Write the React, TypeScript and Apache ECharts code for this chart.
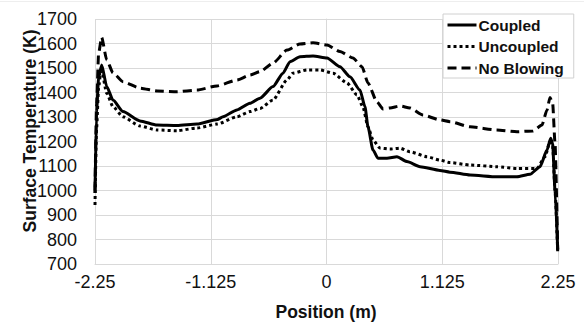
import React, { useEffect, useRef } from "react";
import * as echarts from "echarts";

const seriesNames = ["Coupled", "Uncoupled", "No Blowing"];
const xTicks = [-2.25, -1.125, 0, 1.125, 2.25];

const coupled: [number, number][] = [
  [-2.25, 990], [-2.235, 1320], [-2.215, 1460], [-2.185, 1512], [-2.136, 1424],
  [-2.075, 1369], [-1.978, 1322], [-1.813, 1284], [-1.647, 1267], [-1.453, 1265],
  [-1.259, 1271], [-1.06, 1290], [-1.006, 1301], [-0.87, 1329], [-0.744, 1356],
  [-0.646, 1377], [-0.52, 1424], [-0.423, 1479], [-0.355, 1526], [-0.258, 1546],
  [-0.131, 1549], [0.005, 1541], [0.131, 1505], [0.228, 1464], [0.325, 1410],
  [0.374, 1342], [0.403, 1260], [0.452, 1165], [0.5, 1132], [0.588, 1132],
  [0.685, 1138], [0.782, 1118], [0.909, 1097], [1.103, 1082], [1.2, 1075],
  [1.395, 1063], [1.657, 1056], [1.851, 1056], [1.978, 1066], [2.075, 1097],
  [2.143, 1165], [2.179, 1213], [2.198, 1190], [2.221, 1000], [2.247, 761],
];

const uncoupled: [number, number][] = [
  [-2.25, 941], [-2.235, 1250], [-2.215, 1420], [-2.19, 1500], [-2.136, 1397],
  [-2.075, 1342], [-1.978, 1301], [-1.813, 1263], [-1.647, 1247], [-1.453, 1244],
  [-1.259, 1255], [-1.064, 1271], [-0.87, 1301], [-0.744, 1322], [-0.646, 1335],
  [-0.52, 1369], [-0.384, 1451], [-0.326, 1479], [-0.19, 1492], [-0.063, 1492],
  [0.063, 1479], [0.199, 1439], [0.296, 1390], [0.354, 1342], [0.403, 1260],
  [0.452, 1206], [0.52, 1173], [0.617, 1169], [0.714, 1173], [0.811, 1158],
  [0.977, 1138], [1.103, 1124], [1.2, 1114], [1.395, 1104], [1.657, 1097],
  [1.851, 1090], [2.046, 1090], [2.124, 1138], [2.172, 1200], [2.198, 1185],
  [2.221, 1000], [2.247, 750],
];

const noBlowing: [number, number][] = [
  [-2.25, 1000], [-2.235, 1350], [-2.215, 1560], [-2.185, 1625], [-2.136, 1533],
  [-2.075, 1480], [-1.978, 1444], [-1.813, 1418], [-1.647, 1406], [-1.453, 1403],
  [-1.259, 1410], [-1.064, 1427], [-0.87, 1451], [-0.744, 1471], [-0.646, 1485],
  [-0.52, 1520], [-0.384, 1573], [-0.258, 1598], [-0.131, 1603], [0.005, 1594],
  [0.131, 1567], [0.257, 1541], [0.345, 1505], [0.403, 1439], [0.49, 1362],
  [0.549, 1333], [0.617, 1337], [0.714, 1345], [0.811, 1337], [0.937, 1308],
  [1.103, 1288], [1.2, 1281], [1.395, 1260], [1.657, 1247], [1.851, 1240],
  [2.007, 1243], [2.094, 1267], [2.143, 1329], [2.172, 1380], [2.198, 1357],
  [2.221, 1194], [2.247, 757],
];

const seriesData = [coupled, uncoupled, noBlowing];
const dashTypes: any[] = ["solid", [3, 3], [9, 5]];

export default function App() {
  const ref = useRef<HTMLDivElement>(null);
  useEffect(() => {
    if (!ref.current) return;
    const chart = echarts.init(ref.current, null, { renderer: "svg" });
    const font = "'Liberation Sans', Arial, sans-serif";
    chart.setOption({
      animation: false,
      backgroundColor: "#ffffff",
      grid: { left: 95, right: 26, top: 19, bottom: 65, containLabel: false },
      xAxis: {
        type: "value",
        min: xTicks[0],
        max: xTicks[xTicks.length - 1],
        interval: 1.125,
        axisLine: { show: true, lineStyle: { color: "#d9d9d9", width: 1 } },
        axisTick: { show: false },
        splitLine: { show: true, lineStyle: { color: "#d9d9d9", width: 1 } },
        axisLabel: {
          color: "#111",
          fontSize: 18,
          fontFamily: font,
          margin: 9,
          formatter: (v: number) => String(v),
        },
      },
      yAxis: {
        type: "value",
        min: 700,
        max: 1700,
        interval: 100,
        axisLine: { show: true, lineStyle: { color: "#d9d9d9", width: 1 } },
        axisTick: { show: false },
        splitLine: { show: true, lineStyle: { color: "#d9d9d9", width: 1 } },
        axisLabel: {
          color: "#111",
          fontSize: 18,
          fontFamily: font,
          margin: 18,
          formatter: (v: number) => String(v),
        },
      },
      legend: {
        data: seriesNames,
        orient: "vertical",
        left: 443,
        top: 14,
        width: 125,
        backgroundColor: "#ffffff",
        borderColor: "#d0d0d0",
        borderWidth: 1,
        padding: [3, 10, 2, 3],
        itemGap: 5.5,
        itemWidth: 29,
        itemHeight: 18,
        itemStyle: { opacity: 0 },
        lineStyle: { width: 3 },
        textStyle: {
          color: "#111",
          fontSize: 15.5,
          fontWeight: "bold",
          fontFamily: font,
          padding: [0, 0, 0, -3],
        },
      },
      graphic: [
        {
          type: "line",
          shape: { x1: 0, y1: 1.5, x2: 584, y2: 1.5 },
          style: { stroke: "#eeeeee", lineWidth: 1 },
          silent: true,
        },
        {
          type: "text",
          x: 30,
          y: 131,
          rotation: Math.PI / 2,
          style: {
            text: "Surface Temperature (K)",
            fontSize: 17.5,
            fontWeight: "bold",
            fontFamily: font,
            fill: "#111",
            textAlign: "center",
            textVerticalAlign: "middle",
          },
        },
        {
          type: "text",
          x: 326,
          y: 312,
          style: {
            text: "Position (m)",
            fontSize: 17.5,
            fontWeight: "bold",
            fontFamily: font,
            fill: "#111",
            textAlign: "center",
            textVerticalAlign: "middle",
          },
        },
      ],
      series: seriesNames.map((name, i) => ({
        name,
        type: "line",
        data: seriesData[i],
        symbol: "none",
        showSymbol: false,
        smooth: 0.2,
        smoothMonotone: "x",
        z: 3 - i,
        lineStyle: { color: "#000", width: 3, type: dashTypes[i], cap: "butt" },
        itemStyle: { color: "#000" },
      })),
    });
    return () => chart.dispose();
  }, []);
  return <div ref={ref} style={{ width: 584, height: 329, position: "absolute", left: 0, top: 0 }} />;
}
